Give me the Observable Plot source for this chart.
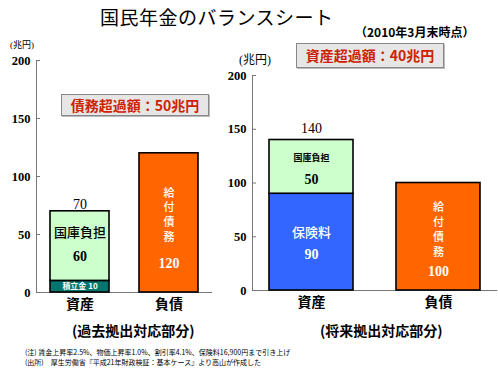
<!DOCTYPE html>
<html><head><meta charset="utf-8">
<script src="https://cdn.jsdelivr.net/npm/d3@7"></script>
<script src="https://cdn.jsdelivr.net/npm/@observablehq/plot@0.6"></script>
<style>
body{margin:0;background:#fff;}
#root{position:relative;width:498px;height:374px;overflow:hidden;font-family:"Noto Sans CJK JP",sans-serif;color:#000;}
.abs{position:absolute;white-space:nowrap;}
.box{position:absolute;background:#e6e6e6;border:1px solid #888;box-shadow:1px 1px 0 #bbb;color:#cc2200;font-weight:bold;font-size:14px;text-align:center;box-sizing:border-box;}
</style></head>
<body><div id="root"></div>
<script>
const categories = ["資産", "負債"];
const pastNames = ["積立金", "国庫負担", "給付債務"];
const pastCats = ["資産", "資産", "負債"];
const pastValues = [10, 60, 120];
const futureNames = ["保険料", "国庫負担", "給付債務"];
const futureCats = ["資産", "資産", "負債"];
const futureValues = [90, 50, 100];
const yTicks = [0, 50, 100, 150, 200];
const segColors = {"積立金": "#00766e", "国庫負担": "#ccffcc", "給付債務": "#ff6600", "保険料": "#3366ff"};

const past = pastNames.map((n, i) => ({name: n, cat: pastCats[i], value: pastValues[i]}));
const future = futureNames.map((n, i) => ({name: n, cat: futureCats[i], value: futureValues[i]}));

const numFont = "Liberation Serif";
const jpFont = "Noto Sans CJK JP";
const vert = s => s.split("").join("\n");

function totals(data) {
  return categories.filter(c => c === "資産").map(c => ({cat: c, total: d3.sum(data.filter(d => d.cat === c), d => d.value)}));
}

function chart(data, o) {
  const st = (opts) => Plot.stackY({x: "cat", y: "value", ...opts});
  const lab = (name, fmt, opts) => Plot.text(data, st({text: d => d.name === name ? fmt(d) : "", ...opts}));
  return Plot.plot({
    width: o.width, height: 320,
    marginTop: o.mt, marginBottom: 320 - o.bottom, marginLeft: o.ml, marginRight: o.mr,
    style: {fontFamily: numFont, background: "transparent", overflow: "visible"},
    x: {domain: categories, paddingInner: o.pi, paddingOuter: o.po, label: null},
    y: {domain: [0, 200], label: null},
    color: {type: "identity"},
    marks: [
      Plot.frame({anchor: "left", stroke: "#777", strokeWidth: 1}),
      Plot.ruleY([0], {stroke: "#777", strokeWidth: 1}),
      Plot.axisY({ticks: yTicks, tickSize: -4, tickPadding: 10, stroke: "#777", fontSize: 12.5, fontWeight: "bold", fill: "#000", label: null}),
      Plot.axisX({tickSize: 0, tickPadding: 7, fontSize: 14, fontWeight: "bold", fontFamily: jpFont, fill: "#000", label: null}),
      Plot.barY(data, st({fill: d => segColors[d.name], stroke: "#000", strokeWidth: 1.6})),
      ...o.labels(lab),
      Plot.text(totals(data), {x: "cat", y: "total", text: d => String(d.total), dy: o.totalDy, fontSize: 14, fill: "#000"})
    ]
  });
}

const root = document.getElementById("root");
function place(el, left, top) { el.style.position = "absolute"; el.style.left = left + "px"; el.style.top = top + "px"; root.appendChild(el); }

const left = chart(past, {
  width: 250, mt: 60, bottom: 292, ml: 36, mr: 38, pi: 0.337, po: 0.157, totalDy: -7,
  labels: lab => [
    lab("国庫負担", d => d.name, {dy: -13, fontSize: 13, fontFamily: jpFont, fontWeight: 500, fill: "#000"}),
    lab("国庫負担", d => String(d.value), {dy: 10, fontSize: 14, fontWeight: "bold", fill: "#000"}),
    lab("積立金", d => d.name + " " + d.value, {dy: 0, fontSize: 8, fontFamily: jpFont, fontWeight: "bold", fill: "#fff"}),
    lab("給付債務", d => vert(d.name), {dy: -9, fontSize: 11, lineHeight: 1.34, fontFamily: jpFont, fontWeight: 500, fill: "#fff"}),
    lab("給付債務", d => String(d.value), {dy: 41, fontSize: 14, fontWeight: "bold", fill: "#fff"})
  ]
});
place(left, 0, 0);

const right = chart(future, {
  width: 298, mt: 75, bottom: 290, ml: 52, mr: 1, pi: 0.34, po: 0.134, totalDy: -11,
  labels: lab => [
    lab("国庫負担", d => d.name, {dy: -9, fontSize: 9, fontFamily: jpFont, fontWeight: "bold", fill: "#000"}),
    lab("国庫負担", d => String(d.value), {dy: 13, fontSize: 14, fontWeight: "bold", fill: "#000"}),
    lab("保険料", d => d.name, {dy: -9, fontSize: 13, fontFamily: jpFont, fontWeight: 500, fill: "#fff"}),
    lab("保険料", d => String(d.value), {dy: 12, fontSize: 14, fontWeight: "bold", fill: "#fff"}),
    lab("給付債務", d => vert(d.name), {dy: -8, fontSize: 11, lineHeight: 1.34, fontFamily: jpFont, fontWeight: 500, fill: "#fff"}),
    lab("給付債務", d => String(d.value), {dy: 35, fontSize: 14, fontWeight: "bold", fill: "#fff"})
  ]
});
place(right, 200, 0);

function txt(s, left, top, style) {
  const d = document.createElement("div");
  d.className = "abs"; d.textContent = s;
  d.style.left = left + "px"; d.style.top = top + "px";
  Object.assign(d.style, style || {});
  root.appendChild(d);
  return d;
}
txt("国民年金のバランスシート", 100, 3, {fontSize: "19px", letterSpacing: "0.5px"});
txt("（2010年3月末時点）", 355, 23, {fontSize: "12px", fontWeight: "bold"});
txt("(兆円)", 10, 40, {fontSize: "9px", lineHeight: "11px", fontFamily: numFont + "," + jpFont});
txt("(兆円)", 239, 53, {fontSize: "12px", lineHeight: "14px", fontFamily: numFont + "," + jpFont});
const b1 = document.createElement("div"); b1.className = "box"; b1.textContent = "債務超過額：50兆円";
Object.assign(b1.style, {left: "61px", top: "94px", width: "148px", height: "22px", lineHeight: "20px"}); root.appendChild(b1);
const b2 = document.createElement("div"); b2.className = "box"; b2.textContent = "資産超過額：40兆円";
Object.assign(b2.style, {left: "296px", top: "43px", width: "148px", height: "25px", lineHeight: "23px"}); root.appendChild(b2);
txt("(過去拠出対応部分)", 72, 320, {fontSize: "14px", fontWeight: "bold"});
txt("(将来拠出対応部分)", 320, 320, {fontSize: "14px", fontWeight: "bold"});
txt("(注) 賃金上昇率2.5%、物価上昇率1.0%、割引率4.1%、保険料16,900円まで引き上げ", 25, 347, {fontSize: "7px"});
txt("(出所)　厚生労働省『平成21年財政検証：基本ケース』より高山が作成した", 25, 357, {fontSize: "7px"});
</script></body></html>
